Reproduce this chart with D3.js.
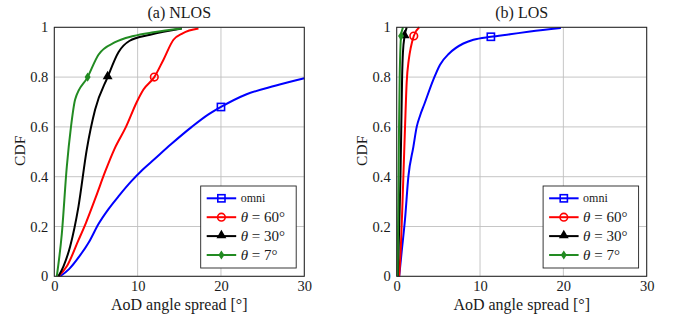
<!DOCTYPE html>
<html><head><meta charset="utf-8">
<script src="https://cdn.jsdelivr.net/npm/d3@7"></script>
<style>
body{margin:0;background:#fff;}
svg text{font-family:"Liberation Serif";}
</style></head>
<body><svg id="c" width="675" height="324"></svg>
<script>
// ---------- data ----------
const xTicks = [0, 10, 20, 30];
const yTicks = [0, 0.2, 0.4, 0.6, 0.8, 1];
const yTickLabels = ["0", "0.2", "0.4", "0.6", "0.8", "1"];
const panelTitles = ["(a) NLOS", "(b) LOS"];
const seriesNames = ["omni", "60", "30", "7"];
const seriesColors = ["#0000ff", "#ff0000", "#000000", "#228b22"];
const seriesMarkers = ["square", "circle", "triangle", "diamond"];

// NLOS
const nlosOmniX = [0.7, 1.8, 3.0, 4.2, 5.3, 6.5, 7.8, 9.2, 10.5, 12.0, 14.0, 16.5, 18.5, 20.0, 23.0, 26.5, 30];
const nlosOmniY = [0, 0.03, 0.08, 0.14, 0.21, 0.27, 0.325, 0.38, 0.425, 0.47, 0.53, 0.60, 0.65, 0.68, 0.73, 0.765, 0.795];
const nlos60X = [0.5, 1.5, 2.9, 3.8, 5.0, 6.1, 7.2, 8.6, 9.9, 10.7, 12.0, 13.1, 14.3, 15.4, 17.3];
const nlos60Y = [0, 0.04, 0.145, 0.215, 0.32, 0.42, 0.51, 0.6, 0.7, 0.75, 0.8, 0.87, 0.95, 0.976, 0.995];
const nlos30X = [0.5, 1.1, 1.9, 2.9, 3.9, 4.9, 6.4, 7.7, 9.0, 11.5, 15.3];
const nlos30Y = [0, 0.04, 0.12, 0.28, 0.51, 0.67, 0.8, 0.9, 0.945, 0.97, 0.995];
const nlos7X = [0.3, 0.9, 1.5, 2.0, 2.5, 4.0, 5.3, 7.3, 9.5, 11.9, 15.3];
const nlos7Y = [0, 0.17, 0.44, 0.6, 0.71, 0.8, 0.89, 0.94, 0.965, 0.98, 0.995];
const nlosMarkIdx = [13, 10, 6, 5];

// LOS
const losOmniX = [0.3, 0.6, 1.0, 1.4, 2.0, 2.4, 2.8, 3.3, 4.4, 5.2, 6.3, 8.0, 9.2, 11.3, 13.6, 16.0, 19.7];
const losOmniY = [0, 0.1, 0.23, 0.4, 0.52, 0.6, 0.645, 0.69, 0.79, 0.85, 0.895, 0.935, 0.95, 0.962, 0.972, 0.983, 0.997];
const los60X = [0.3, 0.5, 0.7, 0.85, 1.0, 1.2, 1.45, 1.7, 2.05, 2.7];
const los60Y = [0, 0.12, 0.3, 0.45, 0.6, 0.78, 0.87, 0.92, 0.965, 1.0];
const los30X = [0.15, 0.3, 0.45, 0.55, 0.65, 0.75, 0.95, 1.2];
const los30Y = [0, 0.2, 0.4, 0.6, 0.8, 0.9, 0.965, 1.0];
const los7X = [0.1, 0.2, 0.28, 0.36, 0.45, 0.52, 0.75];
const los7Y = [0, 0.3, 0.6, 0.8, 0.92, 0.965, 1.0];
const losMarkIdx = [13, 8, 6, 5];

// ---------- drawing ----------
const FONT = '"Liberation Serif"';
const svg = d3.select("#c").attr("font-family", "Liberation Serif");
const W = 250, H = 249;
const x = d3.scaleLinear().domain([0, 30]).range([0, W]);
const y = d3.scaleLinear().domain([0, 1]).range([H, 0]);
const zip = (a, b) => a.map((v, i) => [v, b[i]]);

const panels = [
  {left: 54.3, title: panelTitles[0], series: [zip(nlosOmniX, nlosOmniY), zip(nlos60X, nlos60Y), zip(nlos30X, nlos30Y), zip(nlos7X, nlos7Y)], marks: nlosMarkIdx},
  {left: 396.7, title: panelTitles[1], series: [zip(losOmniX, losOmniY), zip(los60X, los60Y), zip(los30X, los30Y), zip(los7X, los7Y)], marks: losMarkIdx}
];
const topY = 27.3;

function txt(sel, size) {
  return sel.attr("font-family", "Liberation Serif").attr("font-size", size)
    .style("font-family", FONT).style("font-size", size + "px").style("fill", "#1a1a1a");
}

function drawMarker(g, type, cx, cy, color) {
  if (type === "square") {
    g.append("rect").attr("x", cx - 3.6).attr("y", cy - 3.6).attr("width", 7.2).attr("height", 7.2)
      .attr("fill", "none").attr("stroke", color).attr("stroke-width", 1.6);
  } else if (type === "circle") {
    g.append("circle").attr("cx", cx).attr("cy", cy).attr("r", 3.8)
      .attr("fill", "none").attr("stroke", color).attr("stroke-width", 1.6);
  } else if (type === "triangle") {
    g.append("path").attr("d", d3.symbol().type(d3.symbolTriangle).size(42)())
      .attr("transform", `translate(${cx},${cy - 0.6})`).attr("fill", color);
  } else {
    g.append("path").attr("d", `M${cx},${cy - 4.6}L${cx + 3},${cy}L${cx},${cy + 4.6}L${cx - 3},${cy}Z`).attr("fill", color);
  }
}

panels.forEach(p => {
  const g = svg.append("g").attr("transform", `translate(${p.left},${topY})`);
  // grid
  g.append("g").selectAll("line").data(xTicks).join("line")
    .attr("x1", d => x(d)).attr("x2", d => x(d)).attr("y1", 0).attr("y2", H)
    .attr("stroke", "#c0c0c0").attr("stroke-width", 0.9);
  g.append("g").selectAll("line").data(yTicks).join("line")
    .attr("y1", d => y(d)).attr("y2", d => y(d)).attr("x1", 0).attr("x2", W)
    .attr("stroke", "#c0c0c0").attr("stroke-width", 0.9);
  // axes (tick labels)
  const xa = g.append("g").attr("transform", `translate(0,${H})`)
    .call(d3.axisBottom(x).tickValues(xTicks).tickSize(0).tickPadding(4.5).tickFormat(d3.format("d")));
  xa.attr("font-family", "Liberation Serif").attr("font-size", 14.5);
  xa.select(".domain").remove();
  txt(xa.selectAll("text"), 14.5);
  const ya = g.append("g")
    .call(d3.axisLeft(y).tickValues(yTicks).tickSize(0).tickPadding(6).tickFormat((d, i) => yTickLabels[i]));
  ya.attr("font-family", "Liberation Serif").attr("font-size", 14.5);
  ya.select(".domain").remove();
  txt(ya.selectAll("text"), 14.5);
  // curves
  const line = d3.line().x(d => x(d[0])).y(d => y(d[1])).curve(d3.curveMonotoneX);
  const cg = g.append("g");
  p.series.forEach((s, i) => {
    cg.append("path").datum(s).attr("d", line).attr("fill", "none")
      .attr("stroke", seriesColors[i]).attr("stroke-width", 2).attr("stroke-linejoin", "round");
  });
  p.series.forEach((s, i) => {
    const pt = s[p.marks[i]];
    drawMarker(g, seriesMarkers[i], x(pt[0]), y(pt[1]), seriesColors[i]);
  });
  // frame
  g.append("rect").attr("x", 0).attr("y", 0).attr("width", W).attr("height", H)
    .attr("fill", "none").attr("stroke", "#222").attr("stroke-width", 1);
  // title
  txt(g.append("text").attr("x", W / 2).attr("y", -9.3).attr("text-anchor", "middle"), 16).text(p.title);
  // x label
  txt(g.append("text").attr("x", W / 2).attr("y", H + 34).attr("text-anchor", "middle"), 16).text("AoD angle spread [°]");
  // y label
  txt(g.append("text").attr("transform", `translate(-29.5,${H / 2 - 1}) rotate(-90)`).attr("text-anchor", "middle"), 15.5).text("CDF");
  // legend
  const lg = g.append("g").attr("transform", `translate(146.4,158.7)`);
  lg.append("rect").attr("x", 0).attr("y", 0).attr("width", 95.5).attr("height", 82)
    .attr("fill", "#fff").attr("stroke", "#222").attr("stroke-width", 0.9);
  seriesNames.forEach((n, i) => {
    const ry = 12.3 + i * 18.9;
    lg.append("line").attr("x1", 6).attr("x2", 35.5).attr("y1", ry).attr("y2", ry)
      .attr("stroke", seriesColors[i]).attr("stroke-width", 2);
    drawMarker(lg, seriesMarkers[i], 20.7, ry, seriesColors[i]);
    const t = lg.append("text").attr("x", 40).attr("y", ry + 4.5);
    if (n === "omni") {
      txt(t, 12).attr("y", ry + 3.5).text("omni");
    } else {
      txt(t, 15);
      t.append("tspan").style("font-style", "italic").text("θ");
      t.append("tspan").text(" = " + n + "°");
    }
  });
});
</script></body></html>
